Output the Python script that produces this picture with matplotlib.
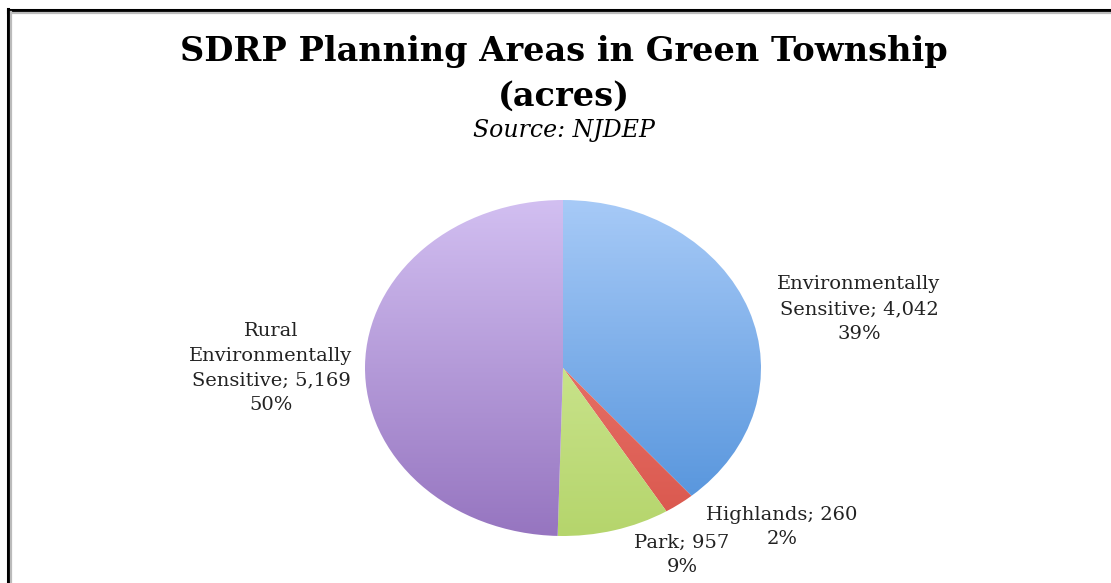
import matplotlib.pyplot as plt
import matplotlib.lines as mlines
import numpy as np
from matplotlib.colors import LinearSegmentedColormap

# SDRP planning areas, acres
areas = ["Environmentally\nSensitive", "Highlands", "Park", "Rural\nEnvironmentally\nSensitive"]
acres = [4042, 260, 957, 5169]
# top / bottom shades for each slice
top_colors = ["#a7caf7", "#f2877e", "#dbf0a8", "#d2bff1"]
bottom_colors = ["#4f90da", "#d9564c", "#b5d56c", "#9675c0"]

fig = plt.figure(figsize=(11.11, 5.83), dpi=100)
plt.rcParams['font.family'] = ['DejaVu Serif']

# frame lines along top and left edge
W, H = 1111, 583
fig.add_artist(mlines.Line2D([8 / W, 1], [1 - 10 / H, 1 - 10 / H], color="black", lw=2.2))
fig.add_artist(mlines.Line2D([8 / W, 1], [1 - 12.5 / H, 1 - 12.5 / H], color="#bbbbbb", lw=1.6))
fig.add_artist(mlines.Line2D([8 / W, 8 / W], [0, 1 - 9 / H], color="black", lw=2.2))
fig.add_artist(mlines.Line2D([11 / W, 11 / W], [0, 1 - 12 / H], color="#bbbbbb", lw=1.6))

cx = 564 / W
fig.text(cx, 1 - 51 / H, "SDRP Planning Areas in Green Township", ha="center", va="center",
         fontsize=24.2, fontweight="bold")
fig.text(cx, 1 - 96 / H, "(acres)", ha="center", va="center", fontsize=24.2, fontweight="bold")
fig.text(cx, 1 - 131 / H, "Source: NJDEP", ha="center", va="center", fontsize=17, style="italic")

# elliptical pie: center (563, 368), radii 198 x 168 px
ax = fig.add_axes([(563 - 198) / W, (H - 368 - 168) / H, 396 / W, 336 / H])
wedges, _ = ax.pie(acres, startangle=90, counterclock=False, radius=1.0,
                   wedgeprops=dict(linewidth=0))
ax.set_aspect("auto")
ax.axis("off")

grad = np.linspace(1, 0, 256).reshape(-1, 1)
for w, c0, c1 in zip(wedges, top_colors, bottom_colors):
    cmap = LinearSegmentedColormap.from_list("g", [c1, c0])
    w.set_facecolor("none")
    im = ax.imshow(grad, cmap=cmap, extent=(-1, 1, -1, 1), aspect="auto",
                   origin="upper", vmin=0, vmax=1, zorder=1)
    im.set_clip_path(w)
ax.set_xlim(-1, 1)
ax.set_ylim(-1, 1)

total = sum(acres)
label_pos = [(859, 309), (782, 527), (682, 555), (271, 368)]
for name, val, (px, py) in zip(areas, acres, label_pos):
    pct = round(100 * val / total)
    txt = "%s; %s\n%d%%" % (name, format(val, ","), pct)
    fig.text(px / W, 1 - py / H, txt, ha="center", va="center", fontsize=14,
             linespacing=1.48, color="#222222")

fig.savefig("out.png", dpi=100)
